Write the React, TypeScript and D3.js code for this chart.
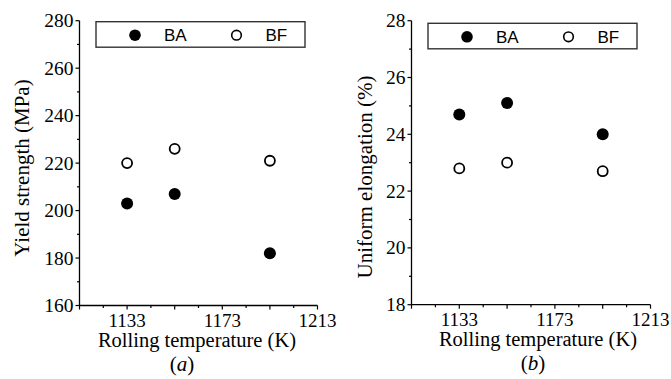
import React, { useEffect, useRef, FC } from "react";
import * as d3 from "d3";

// rolling temperatures (K)
const temps = [1133, 1153, 1193];
// panel (a) yield strength, MPa
const yieldBA = [203, 207, 182];
const yieldBF = [220, 226, 221];
// panel (b) uniform elongation, %
const elongBA = [24.7, 25.1, 24.0];
const elongBF = [22.8, 23.0, 22.7];

const xTickLabels = [1133, 1173, 1213];
const seriesNames = ["BA", "BF"];

const W = 671;
const H = 379;
const SERIF = "'Liberation Serif', 'Times New Roman', serif";
const SANS = "'Liberation Sans', Arial, sans-serif";

interface IPanelProps {
  left: number;
  right: number;
  top: number;
  bottom: number;
  yDomain: [number, number];
  yStep: number;
  yTitle: string;
  yTitleX: number;
  yTitleY: number;
  xTitleX: number;
  captionX: number;
  ba: number[];
  bf: number[];
  letter: string;
  legendTop: number;
}

const Panel: FC<IPanelProps> = (props) => {
  const ref = useRef<SVGGElement>(null);

  useEffect(() => {
    const {
      left,
      right,
      top,
      bottom,
      yDomain,
      yStep,
      yTitle,
      yTitleX,
      yTitleY,
      xTitleX,
      captionX,
      ba,
      bf,
      letter,
      legendTop,
    } = props;
    const g = d3.select(ref.current);
    g.html("");

    const x = d3.scaleLinear().domain([1113, 1213]).range([left, right]);
    const y = d3.scaleLinear().domain(yDomain).range([bottom, top]);

    // y axis: labelled major ticks + one minor between
    const yMajor = d3.range(yDomain[0], yDomain[1] + yStep / 2, yStep);
    const yMinor = d3.range(yDomain[0] + yStep / 2, yDomain[1], yStep);
    g.append("line")
      .attr("x1", left)
      .attr("x2", left)
      .attr("y1", top)
      .attr("y2", bottom)
      .attr("stroke", "#000")
      .attr("stroke-width", 1.3);
    g.selectAll(".ymaj")
      .data(yMajor)
      .join("line")
      .attr("x1", left - 4)
      .attr("x2", left)
      .attr("y1", (d) => y(d))
      .attr("y2", (d) => y(d))
      .attr("stroke", "#000")
      .attr("stroke-width", 1.2);
    g.selectAll(".ymin")
      .data(yMinor)
      .join("line")
      .attr("x1", left - 2.5)
      .attr("x2", left)
      .attr("y1", (d) => y(d))
      .attr("y2", (d) => y(d))
      .attr("stroke", "#000")
      .attr("stroke-width", 1.2);
    g.selectAll(".ylab")
      .data(yMajor)
      .join("text")
      .attr("x", left - 6)
      .attr("y", (d) => y(d) + 6.5)
      .attr("text-anchor", "end")
      .attr("font-family", SERIF)
      .attr("font-size", 19.5)
      .text((d) => `${d}`);

    // x axis
    const xMajor = d3.range(1113, 1214, 20);
    const xMinor = d3.range(1123, 1214, 20);
    g.append("line")
      .attr("x1", left)
      .attr("x2", right)
      .attr("y1", bottom)
      .attr("y2", bottom)
      .attr("stroke", "#000")
      .attr("stroke-width", 1.3);
    g.selectAll(".xmaj")
      .data(xMajor)
      .join("line")
      .attr("x1", (d) => x(d))
      .attr("x2", (d) => x(d))
      .attr("y1", bottom)
      .attr("y2", bottom + 4)
      .attr("stroke", "#000")
      .attr("stroke-width", 1.2);
    g.selectAll(".xmin")
      .data(xMinor)
      .join("line")
      .attr("x1", (d) => x(d))
      .attr("x2", (d) => x(d))
      .attr("y1", bottom)
      .attr("y2", bottom + 2.5)
      .attr("stroke", "#000")
      .attr("stroke-width", 1.2);
    g.selectAll(".xlab")
      .data(xTickLabels)
      .join("text")
      .attr("x", (d) => x(d))
      .attr("y", bottom + 21)
      .attr("text-anchor", "middle")
      .attr("font-family", SERIF)
      .attr("font-size", 19)
      .text((d) => `${d}`);

    // titles
    g.append("text")
      .attr("x", xTitleX)
      .attr("y", bottom + 41)
      .attr("text-anchor", "middle")
      .attr("font-family", SERIF)
      .attr("font-size", 20.5)
      .text("Rolling temperature (K)");
    g.append("text")
      .attr("transform", `translate(${yTitleX},${yTitleY}) rotate(-90)`)
      .attr("text-anchor", "middle")
      .attr("font-family", SERIF)
      .attr("font-size", 21)
      .text(yTitle);
    const cap = g
      .append("text")
      .attr("x", captionX)
      .attr("y", bottom + 65)
      .attr("text-anchor", "middle")
      .attr("font-family", SERIF)
      .attr("font-size", 21);
    cap.append("tspan").text("(");
    cap.append("tspan").attr("font-style", "italic").text(letter);
    cap.append("tspan").text(")");

    // legend
    g.append("rect")
      .attr("x", left + 16.5)
      .attr("y", legendTop)
      .attr("width", 209)
      .attr("height", 25.5)
      .attr("fill", "#fff")
      .attr("stroke", "#333")
      .attr("stroke-width", 1.4);
    const lx = [left + 55.5, left + 157];
    const ly = legendTop + 13.5;
    seriesNames.forEach((name, i) => {
      g.append("circle")
        .attr("cx", lx[i])
        .attr("cy", ly)
        .attr("r", i === 0 ? 5.8 : 4.8)
        .attr("fill", i === 0 ? "#000" : "#fff")
        .attr("stroke", "#000")
        .attr("stroke-width", i === 0 ? 0 : 1.6);
      g.append("text")
        .attr("x", lx[i] + 29)
        .attr("y", ly + 6)
        .attr("font-family", SANS)
        .attr("font-size", 17)
        .text(name);
    });

    // points
    g.selectAll(".ptf")
      .data(bf)
      .join("circle")
      .attr("cx", (_d, i) => x(temps[i]))
      .attr("cy", (d) => y(d))
      .attr("r", 5)
      .attr("fill", "#fff")
      .attr("stroke", "#000")
      .attr("stroke-width", 1.8);
    g.selectAll(".pta")
      .data(ba)
      .join("circle")
      .attr("cx", (_d, i) => x(temps[i]))
      .attr("cy", (d) => y(d))
      .attr("r", 6)
      .attr("fill", "#000");
  }, []);

  return <g ref={ref}></g>;
};

const App: FC = () => {
  return (
    <div style={{ position: "absolute", left: 0, top: 0, width: W, height: H, background: "#fff" }}>
      <svg width={W} height={H} viewBox={`0 0 ${W} ${H}`} style={{ display: "block" }}>
        <rect width={W} height={H} fill="#fff" />
        <Panel
          left={79.5}
          right={317.5}
          top={20.7}
          bottom={305.5}
          yDomain={[160, 280]}
          yStep={20}
          yTitle="Yield strength (MPa)"
          yTitleX={29}
          yTitleY={168}
          xTitleX={197}
          captionX={182}
          ba={yieldBA}
          bf={yieldBF}
          letter="a"
          legendTop={21.7}
        />
        <Panel
          left={411.5}
          right={650.5}
          top={20.7}
          bottom={304.7}
          yDomain={[18, 28]}
          yStep={2}
          yTitle="Uniform elongation (%)"
          yTitleX={372}
          yTitleY={177}
          xTitleX={538}
          captionX={533}
          ba={elongBA}
          bf={elongBF}
          letter="b"
          legendTop={23.3}
        />
      </svg>
    </div>
  );
};

export default App;
